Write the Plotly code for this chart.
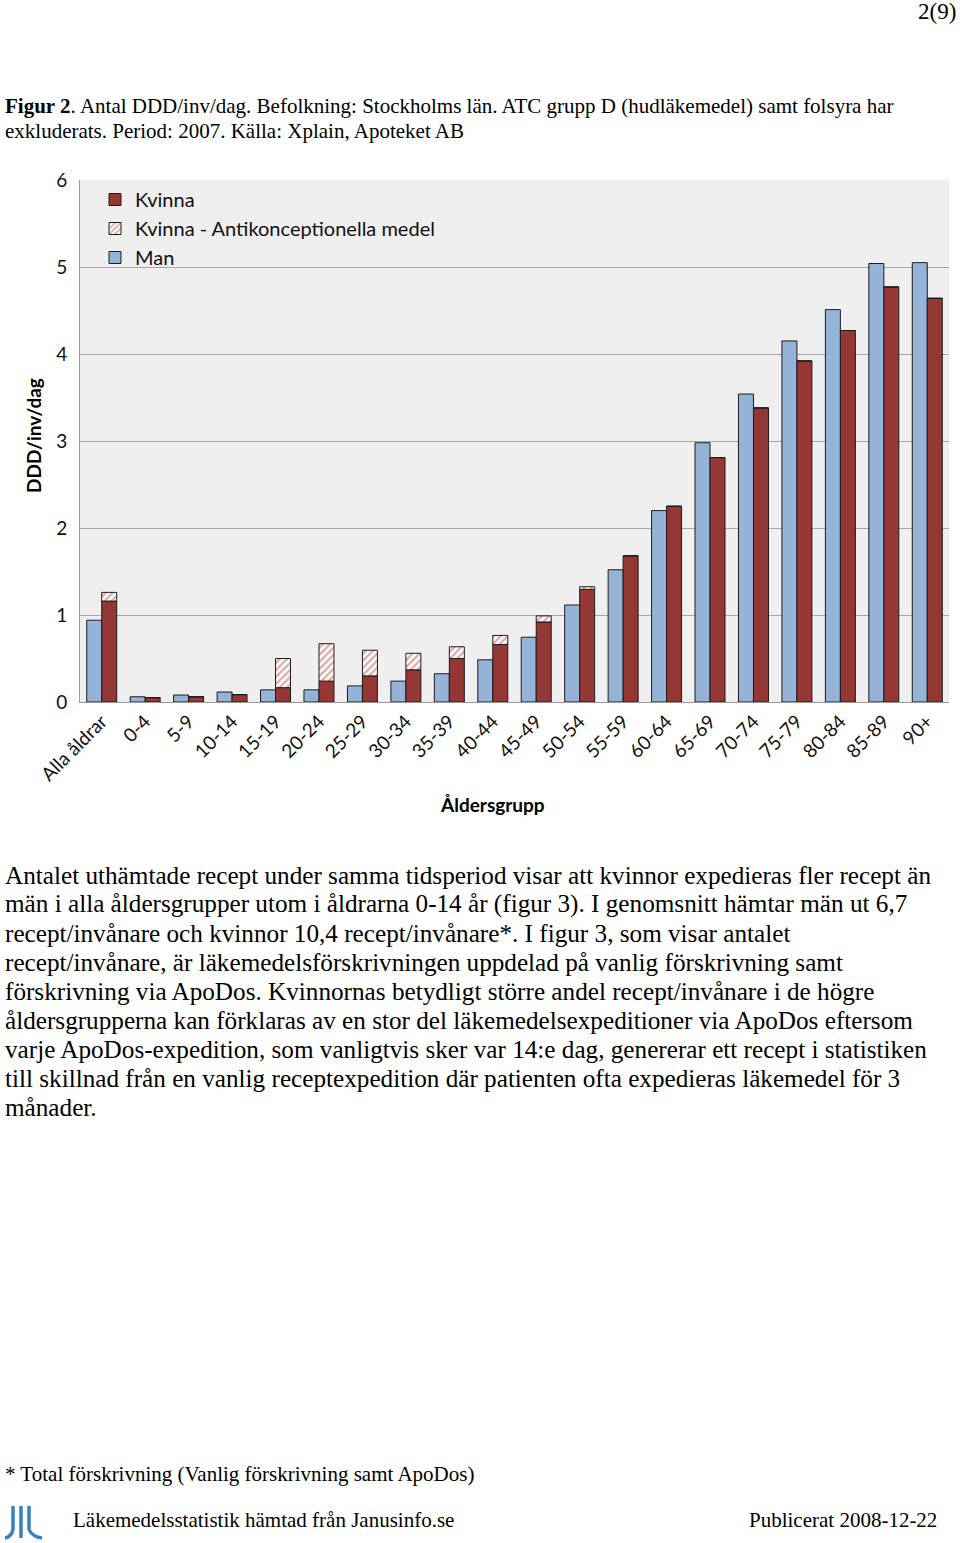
import plotly.graph_objects as go

categories = ["Alla åldrar", "0-4", "5-9", "10-14", "15-19", "20-24", "25-29", "30-34",
              "35-39", "40-44", "45-49", "50-54", "55-59", "60-64", "65-69", "70-74",
              "75-79", "80-84", "85-89", "90+"]
man = [0.94, 0.06, 0.08, 0.115, 0.14, 0.14, 0.185, 0.24, 0.325, 0.485, 0.745, 1.115,
       1.52, 2.20, 2.98, 3.54, 4.15, 4.51, 5.04, 5.05]
kvinna = [1.16, 0.05, 0.06, 0.085, 0.165, 0.24, 0.30, 0.37, 0.50, 0.66, 0.92, 1.295,
          1.68, 2.25, 2.81, 3.38, 3.92, 4.27, 4.77, 4.64]
kvinna_antik = [0.10, 0, 0, 0, 0.335, 0.43, 0.295, 0.19, 0.135, 0.105, 0.07, 0.03,
                0, 0, 0, 0, 0, 0, 0, 0]
y_ticks = [0, 1, 2, 3, 4, 5, 6]

W, H = 960, 1543
L, R, T, B = 80, 949, 180, 702


def px(x):
    return (x - L) / (R - L)


def py(y):
    return (B - y) / (B - T)


BLUE = "#95b3d7"
RED = "#953735"
EDGE = "#1c1c1c"

fig = go.Figure()
fig.add_trace(go.Bar(x=categories, y=man, name="Man", offsetgroup="m", legendrank=3,
                     marker=dict(color=BLUE, line=dict(color=EDGE, width=1))))
fig.add_trace(go.Bar(x=categories, y=kvinna, name="Kvinna", offsetgroup="k", legendrank=1,
                     marker=dict(color=RED, line=dict(color=EDGE, width=1))))
fig.add_trace(go.Bar(x=categories, y=kvinna_antik, base=kvinna,
                     name="Kvinna - Antikonceptionella medel", offsetgroup="k", legendrank=2,
                     marker=dict(color="white", line=dict(color=EDGE, width=1),
                                 pattern=dict(shape="/", fgcolor="#c0504d", bgcolor="white",
                                              size=5, solidity=0.45))))

tickfont = dict(family="Lato", size=19, color="#111111")
fig.update_layout(
    width=W, height=H,
    margin=dict(l=L, r=W - R, t=T, b=H - B, pad=0),
    paper_bgcolor="white", plot_bgcolor="#efefef",
    barmode="group", bargap=0.31, bargroupgap=0,
    showlegend=True,
    legend=dict(x=px(95), y=py(180), xanchor="left", yanchor="top",
                bgcolor="rgba(0,0,0,0)", font=dict(family="Lato", size=20, color="#111111"),
                traceorder="normal", tracegroupgap=0, itemwidth=30),
    xaxis=dict(type="category", tickangle=-45, tickfont=tickfont, showgrid=False,
               showline=True, linecolor="#999999", linewidth=1, ticks="",
               range=[-0.5, len(categories) - 0.5]),
    yaxis=dict(range=[0, 6], tickvals=y_ticks, tickfont=tickfont, showgrid=True,
               gridcolor="#a6a6a6", gridwidth=1, showline=True, linecolor="#999999",
               linewidth=1, ticks="outside", ticklen=8, tickcolor="rgba(0,0,0,0)",
               zeroline=False),
)

serif = "Liberation Serif"


def text(x, y, s, size, anchor="left", family=serif, **kw):
    fig.add_annotation(xref="paper", yref="paper", x=px(x), y=py(y), text=s, showarrow=False,
                       xanchor=anchor, yanchor="middle",
                       font=dict(family=family, size=size, color="#000000"), **kw)


text(958, 12, "2(9)", 23, anchor="right")
text(3, 106, "<b>Figur 2</b>. Antal DDD/inv/dag. Befolkning: Stockholms län. ATC grupp D (hudläkemedel) samt folsyra har", 21)
text(3, 131, "exkluderats. Period: 2007. Källa: Xplain, Apoteket AB", 21)

text(33, 436, "<b>DDD/inv/dag</b>", 19, anchor="center", family="Lato", textangle=-90)
text(492, 804, "<b>Åldersgrupp</b>", 19, anchor="center", family="Lato")

para = [
    "Antalet uthämtade recept under samma tidsperiod visar att kvinnor expedieras fler recept än",
    "män i alla åldersgrupper utom i åldrarna 0-14 år (figur 3). I genomsnitt hämtar män ut 6,7",
    "recept/invånare och kvinnor 10,4 recept/invånare*. I figur 3, som visar antalet",
    "recept/invånare, är läkemedelsförskrivningen uppdelad på vanlig förskrivning samt",
    "förskrivning via ApoDos. Kvinnornas betydligt större andel recept/invånare i de högre",
    "åldersgrupperna kan förklaras av en stor del läkemedelsexpeditioner via ApoDos eftersom",
    "varje ApoDos-expedition, som vanligtvis sker var 14:e dag, genererar ett recept i statistiken",
    "till skillnad från en vanlig receptexpedition där patienten ofta expedieras läkemedel för 3",
    "månader.",
]
for i, line in enumerate(para):
    text(3, 875 + i * 29, line, 25.2)

text(3, 1474, "* Total förskrivning (Vanlig förskrivning samt ApoDos)", 21)
text(71, 1520, "Läkemedelsstatistik hämtad från Janusinfo.se", 21)
text(939, 1520, "Publicerat 2008-12-22", 21, anchor="right")

# logo (simple blue strokes)
logo_color = "#3a7fc1"
for x0 in [13, 21, 29]:
    fig.add_shape(type="line", xref="paper", yref="paper", x0=px(x0), x1=px(x0),
                  y0=py(1506), y1=py(1530), line=dict(color=logo_color, width=3.5))
fig.add_shape(type="path", xref="paper", yref="paper",
              path=f"M {px(13)},{py(1530)} Q {px(11)},{py(1537)} {px(5)},{py(1538)}",
              line=dict(color=logo_color, width=3.5))
fig.add_shape(type="path", xref="paper", yref="paper",
              path=f"M {px(29)},{py(1530)} Q {px(33)},{py(1537)} {px(42)},{py(1538)}",
              line=dict(color=logo_color, width=3.5))
fig.add_shape(type="line", xref="paper", yref="paper", x0=px(21), x1=px(21),
              y0=py(1530), y1=py(1538), line=dict(color=logo_color, width=3.5))

fig.write_html("out.html", config={"displayModeBar": False},
               post_script="document.body.style.margin='0';document.body.style.padding='0';")
